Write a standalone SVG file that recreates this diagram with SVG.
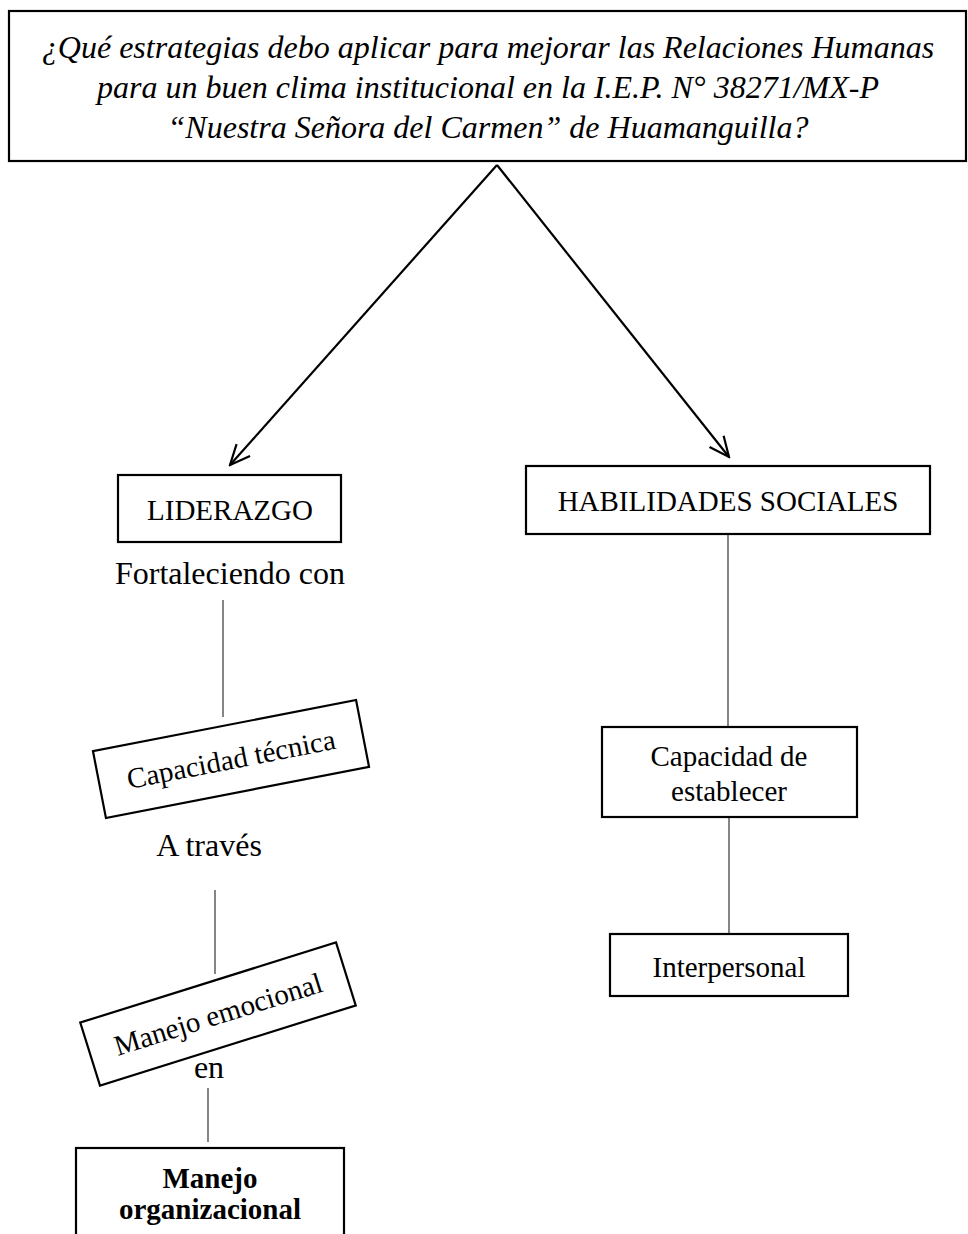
<svg xmlns="http://www.w3.org/2000/svg" width="968" height="1234" viewBox="0 0 968 1234">
<style>
.box{fill:#fff;stroke:#000;stroke-width:2.2}
.t{font-family:"Liberation Serif","Times New Roman",serif;fill:#000;text-anchor:middle}
.title{font-size:32px;font-style:italic}
.lbl{font-size:29px}
.mid{font-size:32px}
.conn{stroke:#444;stroke-width:1.3;fill:none}
.arr{stroke:#000;stroke-width:2.2;fill:none}
</style>
<defs>
<marker id="ah" viewBox="0 0 24 24" refX="22" refY="12" markerWidth="24" markerHeight="24" markerUnits="userSpaceOnUse" orient="auto">
<path d="M2,3 L22,12 L2,21" fill="none" stroke="#000" stroke-width="2.2"/>
</marker>
</defs>
<rect width="968" height="1234" fill="#fff"/>
<g id="connectors">
<line class="arr" x1="497" y1="165" x2="230" y2="465" marker-end="url(#ah)"/>
<line class="arr" x1="497" y1="165" x2="729" y2="457" marker-end="url(#ah)"/>
<line class="conn" x1="223" y1="600" x2="223" y2="717"/>
<line class="conn" x1="215" y1="890" x2="215" y2="974"/>
<line class="conn" x1="208" y1="1088" x2="208" y2="1142"/>
<line class="conn" x1="728" y1="534" x2="728" y2="726"/>
<line class="conn" x1="729" y1="817" x2="729" y2="933"/>
</g>
<g id="title">
<rect class="box" x="9" y="11" width="957" height="150"/>
<text class="t title" x="488" y="58">¿Qué estrategias debo aplicar para mejorar las Relaciones Humanas</text>
<text class="t title" x="488" y="98">para un buen clima institucional en la I.E.P. N° 38271/MX-P</text>
<text class="t title" x="488" y="138">“Nuestra Señora del Carmen” de Huamanguilla?</text>
</g>
<g id="liderazgo">
<rect class="box" x="118" y="475" width="223" height="67"/>
<text class="t lbl" x="230" y="520">LIDERAZGO</text>
</g>
<g id="fortaleciendo">
<text class="t mid" x="230" y="584">Fortaleciendo con</text>
</g>
<g id="capacidad-tecnica" transform="translate(231,759) rotate(-11)">
<rect class="box" x="-134" y="-34" width="268" height="68"/>
<text class="t lbl" x="0" y="10">Capacidad técnica</text>
</g>
<g id="a-traves">
<text class="t mid" x="209" y="856">A través</text>
</g>
<g id="manejo-emocional" transform="translate(218,1014) rotate(-17.4)">
<rect class="box" x="-134" y="-33" width="268" height="66"/>
<text class="t lbl" x="0" y="10">Manejo emocional</text>
</g>
<g id="en">
<text class="t mid" x="209" y="1078">en</text>
</g>
<g id="manejo-organizacional">
<rect class="box" x="76" y="1148" width="268" height="100"/>
<text class="t lbl" x="210" y="1188" font-weight="bold">Manejo</text>
<text class="t lbl" x="210" y="1219" font-weight="bold">organizacional</text>
</g>
<g id="habilidades">
<rect class="box" x="526" y="466" width="404" height="68"/>
<text class="t lbl" x="728" y="511">HABILIDADES SOCIALES</text>
</g>
<g id="capacidad-establecer">
<rect class="box" x="602" y="727" width="255" height="90"/>
<text class="t lbl" x="729" y="766">Capacidad de</text>
<text class="t lbl" x="729" y="801">establecer</text>
</g>
<g id="interpersonal">
<rect class="box" x="610" y="934" width="238" height="62"/>
<text class="t lbl" x="729" y="977">Interpersonal</text>
</g>
</svg>
